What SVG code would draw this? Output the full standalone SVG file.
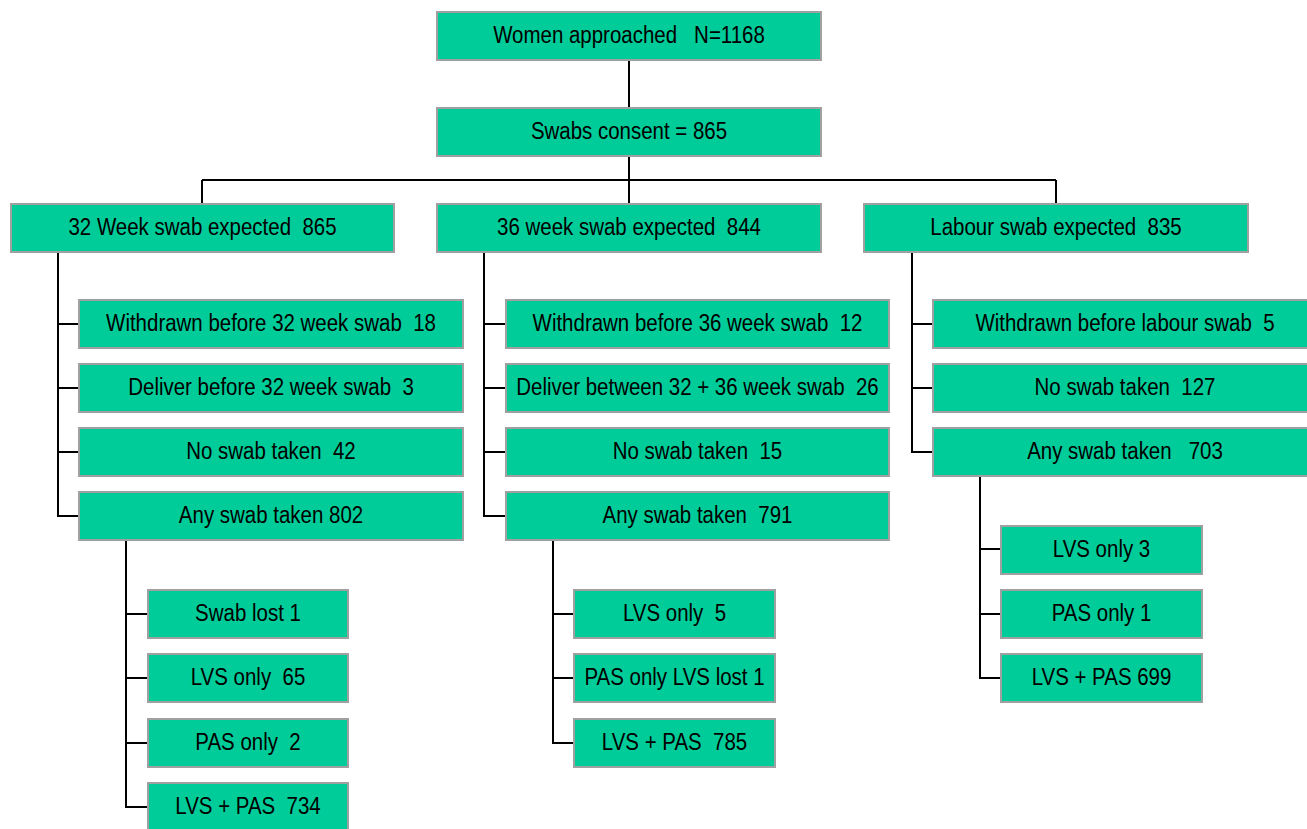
<svg xmlns="http://www.w3.org/2000/svg" width="1307" height="829" viewBox="0 0 1307 829">
<style>
.b{fill:#00CC99;stroke:#A0A0A0;stroke-width:2}
.t{font-family:"Liberation Sans",Arial,sans-serif;font-size:23px;fill:#000;text-anchor:middle}
.c{fill:none;stroke:#000;stroke-width:2}
</style>
<rect width="1307" height="829" fill="#fff"/>
<g id="connectors">
<path class="c" d="M629,60V108M629,156V204M202,180H1056M202,180V204M1056,180V204"/>
<path class="c" d="M58,252V516H79M58,324H79M58,388H79M58,452H79"/>
<path class="c" d="M126,540V807H148M126,614H148M126,678H148M126,743H148"/>
<path class="c" d="M484,252V516H506M484,324H506M484,388H506M484,452H506"/>
<path class="c" d="M553,540V743H574M553,614H574M553,678H574"/>
<path class="c" d="M912,252V452H933M912,324H933M912,388H933"/>
<path class="c" d="M980,476V678H1001M980,549H1001M980,614H1001"/>
</g>
<g id="n_approached"><rect class="b" x="437" y="12" width="384" height="48"/><text class="t" transform="translate(629,43) scale(0.89,1)" xml:space="preserve">Women approached   N=1168</text></g>
<g id="n_consent"><rect class="b" x="437" y="108" width="384" height="48"/><text class="t" transform="translate(629,139) scale(0.89,1)">Swabs consent = 865</text></g>
<g id="n_32"><rect class="b" x="11" y="204" width="383" height="48"/><text class="t" transform="translate(202.5,235) scale(0.89,1)" xml:space="preserve">32 Week swab expected  865</text></g>
<g id="n_36"><rect class="b" x="437" y="204" width="384" height="48"/><text class="t" transform="translate(629,235) scale(0.89,1)" xml:space="preserve">36 week swab expected  844</text></g>
<g id="n_lab"><rect class="b" x="864" y="204" width="384" height="48"/><text class="t" transform="translate(1056,235) scale(0.89,1)" xml:space="preserve">Labour swab expected  835</text></g>

<g id="n_32_w"><rect class="b" x="79" y="300" width="384" height="48"/><text class="t" transform="translate(271,331) scale(0.89,1)" xml:space="preserve">Withdrawn before 32 week swab  18</text></g>
<g id="n_32_d"><rect class="b" x="79" y="364" width="384" height="48"/><text class="t" transform="translate(271,395) scale(0.89,1)" xml:space="preserve">Deliver before 32 week swab  3</text></g>
<g id="n_32_n"><rect class="b" x="79" y="428" width="384" height="48"/><text class="t" transform="translate(271,459) scale(0.89,1)" xml:space="preserve">No swab taken  42</text></g>
<g id="n_32_a"><rect class="b" x="79" y="492" width="384" height="48"/><text class="t" transform="translate(271,523) scale(0.89,1)">Any swab taken 802</text></g>

<g id="n_32_sl"><rect class="b" x="148" y="590" width="200" height="48"/><text class="t" transform="translate(248,621) scale(0.89,1)">Swab lost 1</text></g>
<g id="n_32_lvs"><rect class="b" x="148" y="654" width="200" height="48"/><text class="t" transform="translate(248,685) scale(0.89,1)" xml:space="preserve">LVS only  65</text></g>
<g id="n_32_pas"><rect class="b" x="148" y="719" width="200" height="48"/><text class="t" transform="translate(248,750) scale(0.89,1)" xml:space="preserve">PAS only  2</text></g>
<g id="n_32_both"><rect class="b" x="148" y="783" width="200" height="48"/><text class="t" transform="translate(248,814) scale(0.89,1)" xml:space="preserve">LVS + PAS  734</text></g>

<g id="n_36_w"><rect class="b" x="506" y="300" width="383" height="48"/><text class="t" transform="translate(697.5,331) scale(0.89,1)" xml:space="preserve">Withdrawn before 36 week swab  12</text></g>
<g id="n_36_d"><rect class="b" x="506" y="364" width="383" height="48"/><text class="t" transform="translate(697.5,395) scale(0.89,1)" xml:space="preserve">Deliver between 32 + 36 week swab  26</text></g>
<g id="n_36_n"><rect class="b" x="506" y="428" width="383" height="48"/><text class="t" transform="translate(697.5,459) scale(0.89,1)" xml:space="preserve">No swab taken  15</text></g>
<g id="n_36_a"><rect class="b" x="506" y="492" width="383" height="48"/><text class="t" transform="translate(697.5,523) scale(0.89,1)" xml:space="preserve">Any swab taken  791</text></g>

<g id="n_36_lvs"><rect class="b" x="574" y="590" width="201" height="48"/><text class="t" transform="translate(674.5,621) scale(0.89,1)" xml:space="preserve">LVS only  5</text></g>
<g id="n_36_pas"><rect class="b" x="574" y="654" width="201" height="48"/><text class="t" transform="translate(674.5,685) scale(0.89,1)">PAS only LVS lost 1</text></g>
<g id="n_36_both"><rect class="b" x="574" y="719" width="201" height="48"/><text class="t" transform="translate(674.5,750) scale(0.89,1)" xml:space="preserve">LVS + PAS  785</text></g>

<g id="n_lab_w"><rect class="b" x="933" y="300" width="384" height="48"/><text class="t" transform="translate(1125,331) scale(0.89,1)" xml:space="preserve">Withdrawn before labour swab  5</text></g>
<g id="n_lab_n"><rect class="b" x="933" y="364" width="384" height="48"/><text class="t" transform="translate(1125,395) scale(0.89,1)" xml:space="preserve">No swab taken  127</text></g>
<g id="n_lab_a"><rect class="b" x="933" y="428" width="384" height="48"/><text class="t" transform="translate(1125,459) scale(0.89,1)" xml:space="preserve">Any swab taken   703</text></g>

<g id="n_lab_lvs"><rect class="b" x="1001" y="526" width="201" height="48"/><text class="t" transform="translate(1101.5,557) scale(0.89,1)">LVS only 3</text></g>
<g id="n_lab_pas"><rect class="b" x="1001" y="590" width="201" height="48"/><text class="t" transform="translate(1101.5,621) scale(0.89,1)">PAS only 1</text></g>
<g id="n_lab_both"><rect class="b" x="1001" y="654" width="201" height="48"/><text class="t" transform="translate(1101.5,685) scale(0.89,1)">LVS + PAS 699</text></g>
</svg>
